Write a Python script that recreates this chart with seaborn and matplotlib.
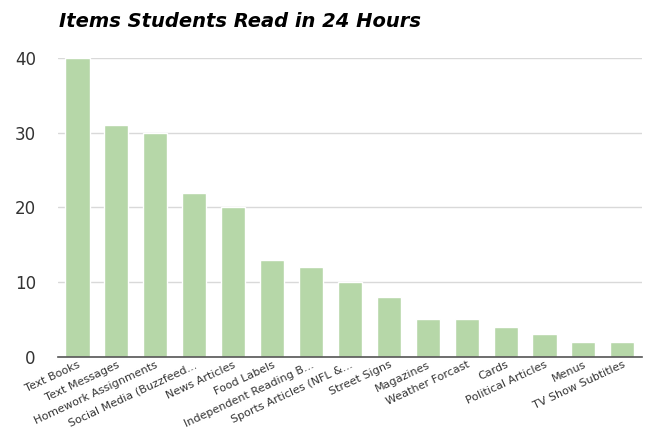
import matplotlib
matplotlib.use("Agg")
import matplotlib.pyplot as plt
import seaborn as sns
import pandas as pd

# datos
items = ["Text Books", "Text Messages", "Homework Assignments", "Social Media (Buzzfeed...",
         "News Articles", "Food Labels", "Independent Reading B...", "Sports Articles (NFL &...",
         "Street Signs", "Magazines", "Weather Forcast", "Cards", "Political Articles",
         "Menus", "TV Show Subtitles"]
counts = [40, 31, 30, 22, 20, 13, 12, 10, 8, 5, 5, 4, 3, 2, 2]

df = pd.DataFrame({"item": items, "count": counts})

sns.set_style("white")
plt.rcParams['font.family'] = ['DejaVu Sans']

fig = plt.figure(figsize=(6.45, 4.4), dpi=100)
ax = fig.add_axes([0.09, 0.189, 0.905, 0.679])

sns.barplot(data=df, x="item", y="count", color="#b6d7a8", width=0.62,
            saturation=1, ax=ax, zorder=2)

ax.set_ylim(0, 40)
ax.set_yticks([0, 10, 20, 30, 40])
ax.yaxis.grid(True, color="#d9d9d9", linewidth=1, zorder=0)
ax.set_axisbelow(True)
ax.set_xlabel("")
ax.set_ylabel("")
for s in ["top", "right", "left"]:
    ax.spines[s].set_visible(False)
ax.spines["bottom"].set_color("#555555")
ax.spines["bottom"].set_linewidth(1.2)
ax.tick_params(axis="y", length=0, labelsize=12, colors="#333333", pad=16)
ax.tick_params(axis="x", length=0, labelsize=8, colors="#333333", pad=2)
plt.setp(ax.get_xticklabels(), rotation=25, ha="right", rotation_mode="anchor")

fig.text(0.092, 0.952, "Items Students Read in 24 Hours", fontsize=14,
         fontweight="bold", fontstyle="italic", color="#000000", va="center")

fig.savefig("out.png", dpi=100)
